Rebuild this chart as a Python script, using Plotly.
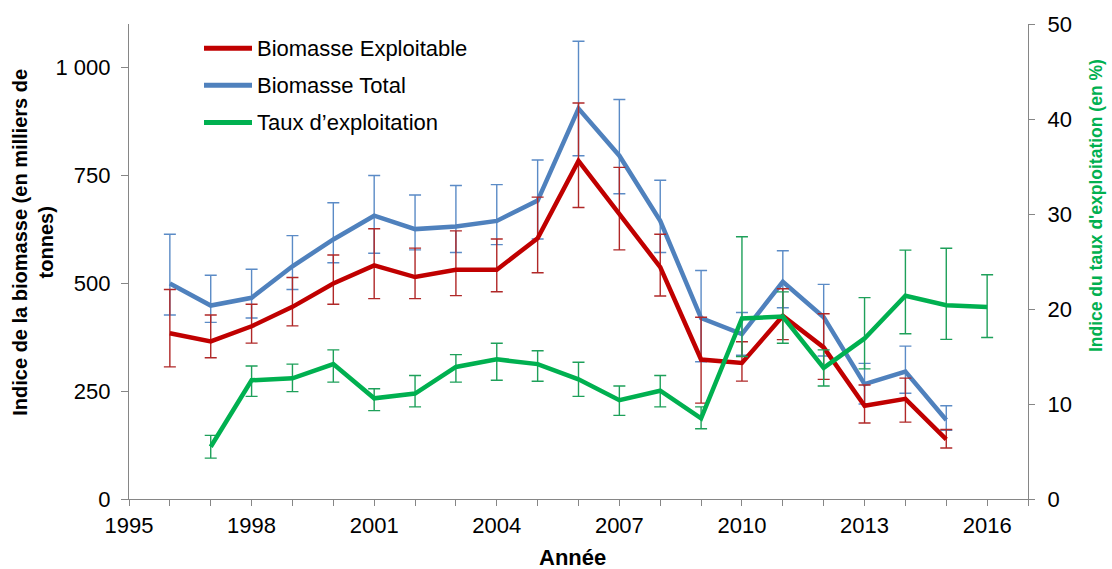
import plotly.graph_objects as go

# --- data -------------------------------------------------------------
years = list(range(1996, 2017))

# Biomasse exploitable (milliers de tonnes) with lower / upper bounds
bio_exploit = [384, 365, 400, 445, 499, 541, 514, 531, 531, 604,
               783, 659, 537, 323, 315, 424, 351, 216, 232, 138, None]
bio_exploit_low = [306, 327, 361, 401, 451, 464, 464, 471, 480, 524,
                   675, 577, 470, 222, 273, 369, 277, 176, 178, 118, None]
bio_exploit_high = [485, 426, 451, 513, 565, 626, 581, 621, 602, 699,
                    917, 768, 613, 421, 364, 487, 429, 264, 280, 161, None]

# Biomasse totale (milliers de tonnes) with lower / upper bounds
bio_total = [499, 448, 466, 539, 601, 656, 625, 631, 644, 691,
             904, 795, 644, 419, 382, 503, 421, 266, 295, 183, None]
bio_total_low = [426, 409, 419, 485, 547, 569, 577, 571, 589, 602,
                 795, 707, 571, 318, 333, 443, 331, 220, 245, 159, None]
bio_total_high = [613, 518, 532, 610, 686, 749, 704, 726, 728, 785,
                  1060, 925, 738, 529, 432, 575, 497, 314, 354, 216, None]

# Taux d'exploitation (%) with lower / upper bounds
taux = [None, 5.5, 12.5, 12.7, 14.2, 10.6, 11.1, 13.9, 14.7, 14.2,
        12.6, 10.4, 11.4, 8.5, 19.0, 19.2, 13.8, 16.9, 21.4, 20.4, 20.2]
taux_low = [None, 4.3, 10.8, 11.3, 12.3, 9.3, 9.7, 12.3, 12.5, 12.4,
            10.8, 8.8, 9.7, 7.4, 15.0, 16.4, 11.9, 13.7, 17.4, 16.8, 17.0]
taux_high = [None, 6.7, 14.0, 14.2, 15.7, 11.6, 13.0, 15.2, 16.4, 15.6,
             14.4, 11.9, 13.0, 9.7, 27.6, 21.8, 15.7, 21.2, 26.2, 26.4, 23.6]

x_ticks = list(range(1995, 2018))
x_labels = [str(y) if y % 3 == 0 and y < 2017 else "" for y in x_ticks]
y_left_ticks = [0, 250, 500, 750, 1000]
y_left_labels = ["0", "250", "500", "750", "1 000"]
y_right_ticks = [0, 10, 20, 30, 40, 50]

series_names = ["Biomasse Exploitable", "Biomasse Total", "Taux d\u2019exploitation"]

RED = "#C00000"
BLUE = "#4F81BD"
GREEN = "#00B050"
AXIS = "#868686"
FONT = "Liberation Sans, Arial, sans-serif"


def bounds(vals, lo, hi):
    plus = [None if v is None else h - v for v, h in zip(vals, hi)]
    minus = [None if v is None else v - l for v, l in zip(vals, lo)]
    return plus, minus


fig = go.Figure()

for vals, lo, hi, col, bar_col, name in [
    (bio_total, bio_total_low, bio_total_high, BLUE, "#5B8BC6", series_names[1]),
    (bio_exploit, bio_exploit_low, bio_exploit_high, RED, "#B02828", series_names[0]),
]:
    plus, minus = bounds(vals, lo, hi)
    fig.add_trace(go.Scatter(
        x=years, y=vals, mode="lines", name=name, showlegend=False,
        line=dict(color=col, width=4.5),
        error_y=dict(type="data", symmetric=False, array=plus, arrayminus=minus,
                     color=bar_col, thickness=1.4, width=6),
        yaxis="y",
    ))

plus, minus = bounds(taux, taux_low, taux_high)
fig.add_trace(go.Scatter(
    x=years, y=taux, mode="lines", name=series_names[2], showlegend=False,
    line=dict(color=GREEN, width=4.5),
    error_y=dict(type="data", symmetric=False, array=plus, arrayminus=minus,
                 color="#1EA05A", thickness=1.4, width=6),
    yaxis="y2",
))

# --- layout -------------------------------------------------------------
W, H = 1112, 569
L, R, T, B = 129, 84, 19, 70
pw, ph = W - L - R, H - T - B


def px_x(px):
    return (px - L) / pw


def px_y(py):
    return (H - B - py) / ph


fig.update_layout(
    width=W, height=H,
    margin=dict(l=L, r=R, t=T, b=B, pad=0),
    paper_bgcolor="white", plot_bgcolor="white",
    font=dict(family=FONT, size=22, color="#000000"),
    showlegend=False,
    xaxis=dict(
        range=[1995, 2017], tickmode="array", tickvals=x_ticks, ticktext=x_labels,
        showgrid=False, zeroline=False, showline=True, linecolor=AXIS, linewidth=1.3,
        ticks="outside", ticklen=6, tickcolor=AXIS, tickwidth=1.3,
        tickfont=dict(size=22),
    ),
    yaxis=dict(
        range=[0, 1100], tickmode="array", tickvals=y_left_ticks, ticktext=y_left_labels,
        showgrid=False, zeroline=False, showline=True, linecolor=AXIS, linewidth=1.3,
        ticks="outside", ticklen=7, tickcolor=AXIS, tickwidth=1.3,
        tickfont=dict(size=22), ticklabelstandoff=6,
    ),
    yaxis2=dict(
        range=[0, 50], tickmode="array", tickvals=y_right_ticks,
        overlaying="y", side="right", anchor="x",
        showgrid=False, zeroline=False, showline=True, linecolor=AXIS, linewidth=1.3,
        ticks="outside", ticklen=6, tickcolor=AXIS, tickwidth=1.3,
        tickfont=dict(size=22), ticklabelstandoff=8,
    ),
)

# axis titles
annotations = [
    dict(text="<b>Indice de la biomasse (en milliers de<br>tonnes)</b>",
         x=px_x(33), y=px_y(240), xref="paper", yref="paper",
         textangle=-90, showarrow=False, xanchor="center", yanchor="middle",
         font=dict(size=20, color="#000000")),
    dict(text="<b>Indice du taux d'exploitation (en %)</b>",
         x=px_x(1096), y=px_y(203), xref="paper", yref="paper",
         textangle=-90, showarrow=False, xanchor="center", yanchor="middle",
         font=dict(size=17.5, color=GREEN)),
    dict(text="<b>Année</b>", x=px_x(572), y=px_y(558), xref="paper", yref="paper",
         showarrow=False, xanchor="center", yanchor="middle",
         font=dict(size=22, color="#000000")),
]

# legend drawn as line samples + labels
shapes = []
for name, col, py in zip(series_names, [RED, BLUE, GREEN], [43.5, 81, 118.5]):
    shapes.append(dict(type="line", xref="paper", yref="paper",
                       x0=px_x(204), x1=px_x(252), y0=px_y(py), y1=px_y(py),
                       line=dict(color=col, width=5)))
    annotations.append(dict(text=name, x=px_x(255), y=px_y(py), xref="paper", yref="paper",
                            showarrow=False, xanchor="left", yanchor="middle",
                            font=dict(size=22, color="#000000")))

fig.update_layout(annotations=annotations, shapes=shapes)

fig.write_html("out.html")
